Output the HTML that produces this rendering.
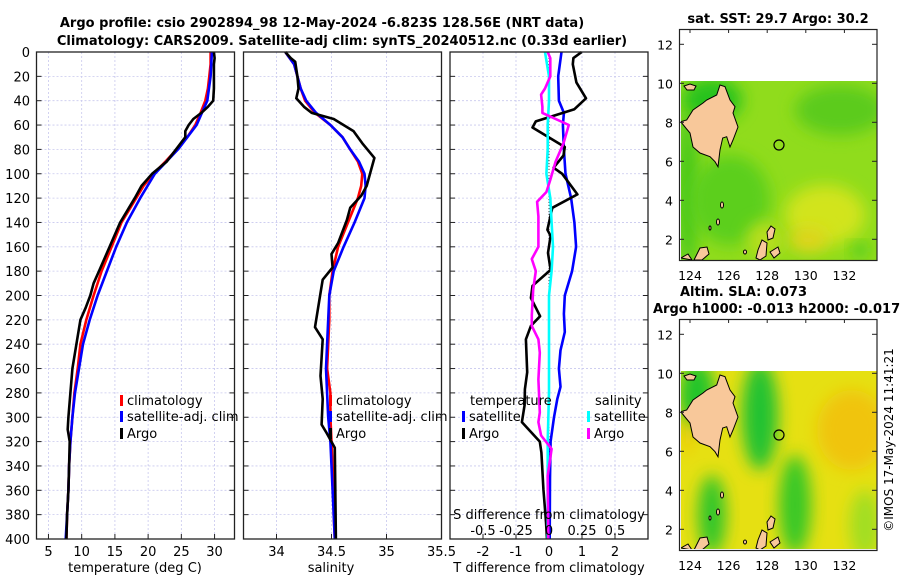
<!DOCTYPE html>
<html><head><meta charset="utf-8">
<style>
body{margin:0;background:#fff;}
svg{display:block;font-family:"DejaVu Sans","Liberation Sans",sans-serif;}
</style></head>
<body>
<svg id="fig" width="900" height="580" viewBox="0 0 900 580" xmlns="http://www.w3.org/2000/svg">
<defs>
<filter id="blur6" x="-50%" y="-50%" width="200%" height="200%"><feGaussianBlur stdDeviation="8"/></filter>
<clipPath id="clip1"><rect x="681" y="81" width="196" height="179"/></clipPath>
<clipPath id="clip2"><rect x="681" y="371" width="196" height="178"/></clipPath>
</defs>
<text x="322" y="27" text-anchor="middle" font-size="13" font-weight="bold">Argo profile: csio 2902894_98 12-May-2024 -6.823S 128.56E (NRT data)</text>
<text x="342" y="45" text-anchor="middle" font-size="13" font-weight="bold">Climatology: CARS2009. Satellite-adj clim: synTS_20240512.nc (0.33d earlier)</text>
<g id="panels"></g>
<g id="maps"></g>
<text transform="translate(893,440) rotate(-90)" text-anchor="middle" font-size="12">©IMOS 17-May-2024 11:41:21</text>
</svg>
<script>
// ---------- data ----------
const tClimDepth = [0,10,20,30,40,50,60,70,80,90,100,110,120,140,160,180,200,220,240,260,280,300,320,340,360,380,400];
const tClim = [29.4,29.4,29.2,29.0,28.6,27.9,27.1,25.9,24.3,22.6,20.8,19.3,18.2,16.0,14.5,13.0,11.8,10.7,9.8,9.4,8.9,8.6,8.3,8.1,8.0,7.8,7.7];
const tSatDepth = [0,20,40,50,60,80,100,120,140,160,180,200,220,240,260,280,300,320,340,360,380,400];
const tSat = [29.6,29.4,28.9,28.1,27.3,24.5,21.0,18.8,16.8,15.2,13.8,12.4,11.2,10.2,9.6,9.0,8.6,8.3,8.1,8.0,7.8,7.6];
const tArgoDepth = [0,5,10,20,30,40,45,50,55,60,65,70,80,90,100,110,120,140,160,180,190,200,210,220,240,260,280,300,310,320,340,360,380,400];
const tArgo = [29.9,30.0,29.9,29.9,29.9,29.8,29.0,28.0,26.8,26.1,25.6,25.6,24.2,22.8,20.6,19.0,18.0,15.8,14.2,12.6,11.8,11.3,10.6,9.8,9.2,8.6,8.3,8.0,7.9,8.2,8.1,8.0,7.8,7.7];

const sClimDepth = [0,10,20,30,40,50,60,70,80,90,100,110,120,140,160,180,200,220,240,260,280,300,320,340,360,380,400];
const sClim = [34.08,34.16,34.19,34.22,34.26,34.35,34.49,34.60,34.67,34.74,34.78,34.77,34.74,34.65,34.56,34.51,34.48,34.48,34.47,34.46,34.49,34.49,34.50,34.51,34.52,34.52,34.53];
const sSatDepth = [0,10,20,30,40,50,60,70,80,90,100,110,120,140,160,180,200,220,240,260,280,300,320,340,360,380,400];
const sSat = [34.08,34.16,34.19,34.22,34.27,34.36,34.49,34.60,34.67,34.75,34.80,34.81,34.80,34.71,34.61,34.52,34.48,34.47,34.46,34.45,34.46,34.47,34.49,34.50,34.51,34.52,34.53];
const sArgoDepth = [0,5,8,20,30,38,45,50,55,65,75,87,100,110,118,128,138,157,166,177,187,198,226,236,266,285,306,312,325,400];
const sArgo = [34.08,34.13,34.17,34.19,34.20,34.18,34.25,34.32,34.52,34.70,34.78,34.89,34.85,34.82,34.77,34.67,34.64,34.56,34.50,34.51,34.42,34.40,34.35,34.42,34.40,34.42,34.41,34.45,34.53,34.54];

const dtSatDepth = [0,20,40,50,60,80,100,120,140,160,180,200,215,230,245,260,275,285,300,320,350,400];
const dtSat = [0.38,0.28,0.30,0.45,0.42,0.45,0.50,0.67,0.77,0.82,0.70,0.48,0.45,0.48,0.35,0.30,0.35,0.25,0.15,0.05,0.03,0.02];
const dtArgoDepth = [0,5,10,25,38,47,57,62,78,85,95,100,117,128,146,151,165,179,192,202,217,225,236,263,277,290,304,320,329,359,386,400];
const dtArgo = [0.99,0.74,0.72,0.83,1.12,0.77,-0.40,-0.50,0.48,0.44,0.14,0.40,0.86,0.10,-0.05,0.05,-0.03,0.05,-0.50,-0.55,-0.27,-0.55,-0.70,-0.66,-0.73,-0.74,-0.82,-0.28,-0.23,-0.17,-0.09,-0.06];
const dsSatDepth = [0,20,40,60,80,100,120,140,160,180,200,240,280,320,360,400];
const dsSat = [-0.03,0.0,0.0,-0.01,-0.01,-0.02,0.01,0.02,0.03,0.02,0.0,0.0,0.0,-0.01,-0.01,-0.01];
const dsArgoDepth = [0,5,20,30,35,45,50,60,75,90,105,115,123,135,160,170,180,195,216,225,236,247,269,296,304,315,326,348,400];
const dsArgo = [-0.01,0.01,0.01,-0.03,-0.06,-0.05,-0.05,0.15,0.11,0.05,0.01,-0.02,-0.09,-0.08,-0.08,-0.13,-0.10,-0.12,-0.13,-0.13,-0.08,-0.07,-0.08,-0.07,-0.08,-0.06,0.02,-0.01,-0.005];

const depthTicks = [0,20,40,60,80,100,120,140,160,180,200,220,240,260,280,300,320,340,360,380,400];
const tTicks = [5,10,15,20,25,30];
const sTicks = [34,34.5,35,35.5];
const dtTicks = [-2,-1,0,1,2];
const dsTicks = [-0.5,-0.25,0,0.25,0.5];
const dsTickLabels = ["-0.5","-0.25","0","0.25","0.5"];

// ---------- helpers ----------
const NS = "http://www.w3.org/2000/svg";
const panels = document.getElementById('panels');
function mk(tag, attrs, parent){const e=document.createElementNS(NS,tag);for(const k in attrs)e.setAttribute(k,attrs[k]);(parent||panels).appendChild(e);return e;}
const Y0=52, Y1=539;
const yD = d => Y0 + d*(Y1-Y0)/400;

function panel(x0,x1,xmin,xmax,name){
  const g = mk('g',{});
  
  
  const fx = v => x0 + (v-xmin)*(x1-x0)/(xmax-xmin);
  return {g,fx,x0,x1};
}
function grid(p, xt){
  depthTicks.forEach(d=>{ if(d>0&&d<400){ const l=mk('line',{x1:p.x0,x2:p.x1,y1:yD(d),y2:yD(d),stroke:'#c8c8ee','stroke-width':0.8,'stroke-dasharray':'2,2'},p.g);
      }
    mk('line',{x1:p.x0,x2:p.x0+5,y1:yD(d),y2:yD(d),stroke:'#222'},p.g);
    mk('line',{x1:p.x1-5,x2:p.x1,y1:yD(d),y2:yD(d),stroke:'#222'},p.g);
  });
  xt.forEach(v=>{ const X=p.fx(v); if(X>p.x0+1&&X<p.x1-1){ const l=mk('line',{x1:X,x2:X,y1:Y0,y2:Y1,stroke:'#c8c8ee','stroke-width':0.8,'stroke-dasharray':'2,2'},p.g);
      }
    mk('line',{x1:X,x2:X,y1:Y1-5,y2:Y1,stroke:'#222'},p.g);});
}
function frame(p){const r=mk('rect',{x:p.x0,y:Y0,width:p.x1-p.x0,height:Y1-Y0,fill:'none',stroke:'#222','stroke-width':1.3},p.g);
   }
function line(p, depths, vals, color, name){
  const pts = depths.map((d,i)=>p.fx(vals[i]).toFixed(1)+','+yD(d).toFixed(1)).join(' ');
  const pl = mk('polyline',{points:pts,fill:'none',stroke:color,'stroke-width':2.6,'stroke-linejoin':'round'},p.g);
  
  
}
function txt(x,y,s,attrs,name,parent){const t=mk('text',Object.assign({x,y,'font-size':13},attrs||{}),parent);t.textContent=s;
  
  
  return t;}
function legend(x,y,color,label,p){
  mk('rect',{x:x,y:y-10,width:3,height:11,fill:color},p.g);
  txt(x+7,y,label,{},'legend-entry',p.g);
}

// ---------- panel 1: temperature ----------
const p1 = panel(36.5,234.5,3.2,33.0,'temperature-panel');
grid(p1,tTicks);
depthTicks.forEach(d=>txt(30,yD(d)+5,String(d),{'text-anchor':'end'},'y-tick-label',p1.g));
tTicks.forEach(v=>txt(p1.fx(v),556,String(v),{'text-anchor':'middle'},'x-tick-label',p1.g));
txt(135,572,'temperature (deg C)',{'text-anchor':'middle'},'x-axis-title',p1.g);
line(p1,tClimDepth,tClim,'#ff0000','climatology-temperature-line');
line(p1,tSatDepth,tSat,'#0000ff','satellite-temperature-line');
line(p1,tArgoDepth,tArgo,'#000000','argo-temperature-line');
legend(120,405,'#ff0000','climatology',p1);
legend(120,421,'#0000ff','satellite-adj. clim',p1);
legend(120,438,'#000000','Argo',p1);
frame(p1);

// ---------- panel 2: salinity ----------
const p2 = panel(243.5,441.5,33.7,35.5,'salinity-panel');
grid(p2,sTicks);
sTicks.forEach(v=>txt(p2.fx(v),556,String(v),{'text-anchor':'middle'},'x-tick-label',p2.g));
txt(331,572,'salinity',{'text-anchor':'middle'},'x-axis-title',p2.g);
line(p2,sClimDepth,sClim,'#ff0000','climatology-salinity-line');
line(p2,sSatDepth,sSat,'#0000ff','satellite-salinity-line');
line(p2,sArgoDepth,sArgo,'#000000','argo-salinity-line');
legend(329,405,'#ff0000','climatology',p2);
legend(329,421,'#0000ff','satellite-adj. clim',p2);
legend(329,438,'#000000','Argo',p2);
frame(p2);

// ---------- panel 3: differences ----------
const p3 = panel(450,648,-3,3,'difference-panel');
const fS = v => p3.fx(v*4);
grid(p3,dtTicks);
mk('line',{x1:p3.fx(0),x2:p3.fx(0),y1:Y0,y2:Y1,stroke:'#444','stroke-width':1,'stroke-dasharray':'1,2'},p3.g);
dtTicks.forEach(v=>txt(p3.fx(v),556,String(v),{'text-anchor':'middle'},'t-diff-tick-label',p3.g));
txt(549,572,'T difference from climatology',{'text-anchor':'middle'},'t-diff-axis-title',p3.g);
line(p3,dtSatDepth,dtSat,'#0000ff','satellite-t-diff-line');
line(p3,dtArgoDepth,dtArgo,'#000000','argo-t-diff-line');
const pS = {g:p3.g,fx:fS,x0:p3.x0,x1:p3.x1};
line(pS,dsSatDepth,dsSat,'#00ffff','satellite-s-diff-line');
line(pS,dsArgoDepth,dsArgo,'#ff00ff','argo-s-diff-line');
txt(470,405,'temperature',{},'legend-title',p3.g);
txt(595,405,'salinity',{},'legend-title',p3.g);
legend(462,421,'#0000ff','satellite',p3);
legend(462,438,'#000000','Argo',p3);
legend(587,421,'#00ffff','satellite',p3);
legend(587,438,'#ff00ff','Argo',p3);
txt(549,519,'S difference from climatology',{'text-anchor':'middle'},'s-diff-axis-title',p3.g);
dsTicks.forEach((v,i)=>txt(fS(v),535,dsTickLabels[i],{'text-anchor':'middle'},'s-diff-tick-label',p3.g));
frame(p3);

// ---------- maps ----------
const maps = document.getElementById('maps');
function mapPanel(oy, name, clip, blobs, base){
  const g = mk('g',{},maps);
  
  
  const cg = mk('g',{'clip-path':'url(#'+clip+')'},g);
  mk('rect',{x:681,y:oy+81,width:196,height:179,fill:base},cg);
  blobs.forEach(b=>mk('ellipse',{cx:b[0],cy:oy+b[1],rx:b[2],ry:b[3],fill:b[4],filter:'url(#blur6)'},cg));
  const land = "686.7,120 693,110 703,103 706.7,100 716.7,95 720,85 725,86.7 730,100 735,106.7 733,113 738,127 733,140 730,147 726.7,136.7 722.7,138 720,150 718,166.7 715,161.7 710,156.7 700,153 693,147 690,133 685,127 680.7,121.7";
  const lp = mk('polygon',{points:land,transform:'translate(0,'+oy+')',fill:'#f8c89a',stroke:'#000','stroke-width':1},cg);
  
  
  const isl = ["687,90 684,86 690,84 696,86 694,90","771,226 775,229 773,238 768,240 767,232","758,250 762,240 767,243 766,256 760,260 756,258","770,252 778,247 780,253 774,258","694,260 700,248 707,247 709,254 702,260","681,258 688,254 692,260"];
  isl.forEach(pts=>mk('polygon',{points:pts,transform:'translate(0,'+oy+')',fill:'#f8c89a',stroke:'#000','stroke-width':1},cg));
  [[722,205,1.5,3],[718,222,1.5,3],[745,252,1.5,2],[710,228,1,2]].forEach(e=>{
    mk('ellipse',{cx:e[0],cy:oy+e[1],rx:e[2],ry:e[3],fill:'#f8c89a',stroke:'#000','stroke-width':1},cg);});
  mk('circle',{cx:779,cy:oy+145,r:5,fill:'none',stroke:'#000','stroke-width':1.2},cg);
  const fr = mk('rect',{x:679.5,y:oy+29.5,width:197.5,height:231,fill:'none',stroke:'#222','stroke-width':1.2},g);
  
  
  [12,10,8,6,4,2].forEach(la=>{const y=oy+83.3+(10-la)*19.5;
    mk('line',{x1:679,x2:684,y1:y,y2:y,stroke:'#222'},g);mk('line',{x1:872,x2:877,y1:y,y2:y,stroke:'#222'},g);
    txt(673,y+5,String(la),{'text-anchor':'end','font-size':12.5},'lat-tick-label',g);});
  [124,126,128,130,132].forEach(lo=>{const x=690+(lo-124)*19.3;
    mk('line',{x1:x,x2:x,y1:oy+29,y2:oy+33,stroke:'#222'},g);
    txt(x,oy+280,String(lo),{'text-anchor':'middle','font-size':12.5},'lon-tick-label',g);});
  return g;
}
mapPanel(0,'sst-map','clip1',[
  [712,100,30,22,'#28c21c'],[688,190,10,80,'#40c61c'],[730,200,40,45,'#5ccf1c'],
  [840,110,45,25,'#5ccb1c'],[825,215,40,30,'#d2e41a'],[808,240,20,12,'#e0d41a'],[765,240,18,18,'#b8de1a'],[860,250,8,6,'#30c41c']
],'#90dc1c');
mapPanel(290,'sla-map','clip2',[
  [697,105,18,35,'#22c42c'],[760,125,18,55,'#20c230'],[688,145,6,20,'#f0c808'],
  [712,225,14,40,'#30c62a'],[795,215,16,50,'#38c828'],[852,140,35,40,'#f0c40c'],[865,235,15,35,'#a0de20']
],'#e6e012');
txt(778,23,'sat. SST: 29.7 Argo: 30.2',{'text-anchor':'middle','font-weight':'bold'},'sst-map-title',maps);
txt(680,296,'Altim. SLA: 0.073',{'font-weight':'bold'},'sla-map-title',maps);
txt(653,313,'Argo h1000: -0.013 h2000: -0.017',{'font-weight':'bold'},'sla-map-subtitle',maps);
</script>
</body></html>
